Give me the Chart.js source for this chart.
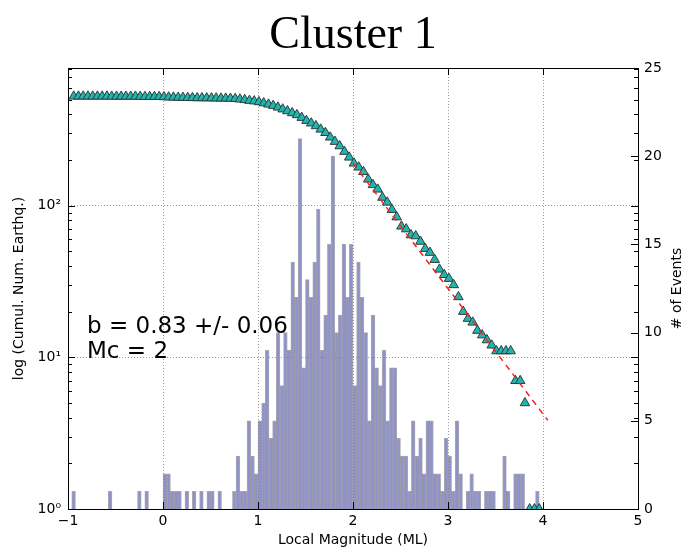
<!DOCTYPE html>
<html>
<head>
<meta charset="utf-8">
<script src="https://cdn.jsdelivr.net/npm/chart.js@4.4.1/dist/chart.umd.min.js"></script>
<style>
html, body { margin: 0; padding: 0; background: #fff; }
#wrap { width: 683px; height: 553px; }
</style>
</head>
<body>
<div id="wrap"><canvas id="gr"></canvas></div>
<script>
// histogram: counts per magnitude bin
const binStart = -0.96;
const binWidth = 0.0384375;
const histCounts = [
  1, 0, 0, 0, 0, 0, 0, 0, 0, 0,
  1, 0, 0, 0, 0, 0, 0, 0, 1, 0,
  1, 0, 0, 0, 0, 2, 2, 1, 1, 1,
  0, 1, 0, 1, 0, 1, 0, 1, 1, 0,
  1, 0, 0, 0, 1, 3, 1, 1, 5, 3,
  2, 5, 6, 9, 4, 5, 10, 7, 10, 9,
  14, 12, 21, 8, 13, 12, 14, 17, 9, 11,
  15, 20, 10, 11, 15, 12, 15, 7, 14, 12,
  10, 5, 11, 8, 7, 9, 5, 8, 8, 4,
  3, 3, 1, 5, 3, 4, 2, 5, 5, 2,
  2, 1, 4, 3, 1, 5, 2, 0, 1, 2,
  1, 1, 0, 1, 1, 1, 0, 0, 3, 1,
  0, 2, 2, 2, 0, 0, 0, 1
];

// cumulative number of events, one value every 0.05 from -0.94
const cumStart = -0.94;
const cumStep = 0.05;
const cumCounts = [
  525, 525, 525, 525, 525, 525, 525, 525, 524, 524,
  524, 524, 524, 524, 523, 522, 522, 522, 522, 520,
  518, 517, 516, 515, 514, 513, 512, 512, 511, 511,
  510, 509, 509, 508, 506, 502, 498, 492, 488, 482,
  474, 465, 456, 444, 432, 420, 408, 396, 380, 363,
  349, 335, 318, 302, 282, 264, 247, 227, 208, 190,
  179, 167, 149, 137, 128, 113, 105, 94, 84, 73,
  70, 64, 63, 58, 52, 49, 44, 38, 35, 33,
  30, 25, 20, 18, 17, 15, 14, 13, 12, 11,
  11, 11, 11, 7, 7, 5, 1, 1, 1
];

// Gutenberg-Richter fit
const fitMags = [2.0, 4.05];
const fitCounts = [190, 3.85];

const xTicks = [-1, 0, 1, 2, 3, 4, 5];
const logTicks = [1, 10, 100];
const logLabels = ['10\u2070', '10\u00b9', '10\u00b2'];
const countTicks = [0, 5, 10, 15, 20, 25];

const histData = histCounts.map((c, k) => ({ x: binStart + binWidth * (k + 0.5), y: c }));
const cumData = cumCounts.map((c, j) => ({ x: cumStart + cumStep * j, y: c }));
const fitData = fitMags.map((m, i) => ({ x: m, y: fitCounts[i] }));

const FONT = 'DejaVu Sans';

// frame, inward ticks, titles and text
const decor = {
  id: 'decor',
  afterDatasetsDraw(chart) {
    const ctx = chart.ctx;
    const a = chart.chartArea;
    const sx = chart.scales.x, sy = chart.scales.y, sc = chart.scales.y2;
    ctx.save();
    ctx.strokeStyle = '#000';
    ctx.lineWidth = 1;
    ctx.beginPath();
    xTicks.forEach(v => {
      const px = Math.round(sx.getPixelForValue(v)) + 0.5;
      ctx.moveTo(px, a.bottom); ctx.lineTo(px, a.bottom - 7);
      ctx.moveTo(px, a.top); ctx.lineTo(px, a.top + 7);
    });
    for (let d = 1; d <= 100; d *= 10) {
      for (let m = 1; m <= 9; m++) {
        const v = d * m;
        if (v > sy.max) break;
        const py = Math.round(sy.getPixelForValue(v)) + 0.5;
        const len = m === 1 ? 7 : 4;
        ctx.moveTo(a.left, py); ctx.lineTo(a.left + len, py);
        ctx.moveTo(a.right, py); ctx.lineTo(a.right - len, py);
      }
    }
    countTicks.forEach(v => {
      const py = Math.round(sc.getPixelForValue(v)) + 0.5;
      ctx.moveTo(a.right, py); ctx.lineTo(a.right - 7, py);
    });
    ctx.stroke();
    ctx.strokeRect(Math.round(a.left) + 0.5, Math.round(a.top) + 0.5,
      Math.round(a.right - a.left), Math.round(a.bottom - a.top));

    // b-value text
    ctx.fillStyle = '#000';
    ctx.font = '23px "' + FONT + '"';
    ctx.textAlign = 'left';
    ctx.textBaseline = 'alphabetic';
    const tx = sx.getPixelForValue(-0.8);
    ctx.fillText('b = 0.83 +/- 0.06', tx, sy.getPixelForValue(14.5));
    ctx.fillText('Mc = 2', tx, sy.getPixelForValue(9.9));

    // title
    const cx = (a.left + a.right) / 2;
    ctx.textAlign = 'center';
    ctx.font = '46px "Liberation Serif"';
    ctx.fillText('Cluster 1', cx, 48);

    // axis titles
    ctx.font = '14px "' + FONT + '"';
    ctx.textBaseline = 'middle';
    ctx.fillText('Local Magnitude (ML)', cx, 540);
    const cy = (a.top + a.bottom) / 2;
    ctx.translate(19, cy);
    ctx.rotate(-Math.PI / 2);
    ctx.fillText('log (Cumul. Num. Earthq.)', 0, 0);
    ctx.rotate(Math.PI / 2);
    ctx.translate(677 - 19, 0);
    ctx.rotate(-Math.PI / 2);
    ctx.fillText('# of Events', 0, 0);
    ctx.restore();
  }
};

const ctx = document.getElementById('gr').getContext('2d');
const chart = new Chart(ctx, {
  data: {
    datasets: [
      {
        type: 'line',
        label: 'fit',
        data: fitData,
        yAxisID: 'y',
        borderColor: '#ff2020',
        borderWidth: 1.5,
        borderDash: [6, 5],
        pointRadius: 0,
        fill: false,
        order: 0
      },
      {
        type: 'scatter',
        label: 'cumulative',
        data: cumData,
        yAxisID: 'y',
        pointStyle: 'triangle',
        pointRadius: 5.5,
        backgroundColor: '#22b5ad',
        borderColor: '#2d3d3d',
        borderWidth: 1,
        order: 1
      },
      {
        type: 'bar',
        label: 'events',
        data: histData,
        yAxisID: 'y2',
        backgroundColor: '#8f92c8',
        borderColor: 'rgba(95,95,115,0.55)',
        borderWidth: 1,
        barPercentage: 1,
        categoryPercentage: 1,
        grouped: false,
        order: 2
      }
    ]
  },
  options: {
    responsive: true,
    maintainAspectRatio: false,
    animation: false,
    devicePixelRatio: 1,
    layout: { padding: { top: 68, left: 0, right: 0, bottom: 0 } },
    plugins: { legend: { display: false }, title: { display: false }, tooltip: { enabled: false } },
    scales: {
      x: {
        type: 'linear',
        position: 'bottom',
        min: -1,
        max: 5,
        offset: false,
        afterBuildTicks: s => { s.ticks = xTicks.map(v => ({ value: v })); },
        afterFit: s => { s.height = 44; },
        ticks: {
          color: '#000',
          font: { family: FONT, size: 14 },
          padding: 4,
          maxRotation: 0,
          callback: v => (v < 0 ? '\u2212' + Math.abs(v) : String(v))
        },
        grid: { color: '#9a9a9a', lineWidth: 1, drawTicks: false, offset: false },
        border: { display: false, dash: [1, 2] }
      },
      y: {
        type: 'logarithmic',
        position: 'left',
        min: 1,
        max: 807,
        afterBuildTicks: s => { s.ticks = logTicks.map(v => ({ value: v })); },
        afterFit: s => { s.width = 68; },
        ticks: {
          color: '#000',
          font: { family: FONT, size: 14 },
          padding: 7,
          callback: v => logLabels[logTicks.indexOf(v)]
        },
        grid: { color: '#9a9a9a', lineWidth: 1, drawTicks: false },
        border: { display: false, dash: [1, 2] }
      },
      y2: {
        type: 'linear',
        position: 'right',
        min: 0,
        max: 25,
        afterBuildTicks: s => { s.ticks = countTicks.map(v => ({ value: v })); },
        afterFit: s => { s.width = 45; },
        ticks: {
          color: '#000',
          font: { family: FONT, size: 14 },
          padding: 6
        },
        grid: { display: false, drawTicks: false },
        border: { display: false }
      }
    }
  },
  plugins: [decor]
});

window.addEventListener('resize', function() {
  chart.resize();
});
</script>
</body>
</html>
